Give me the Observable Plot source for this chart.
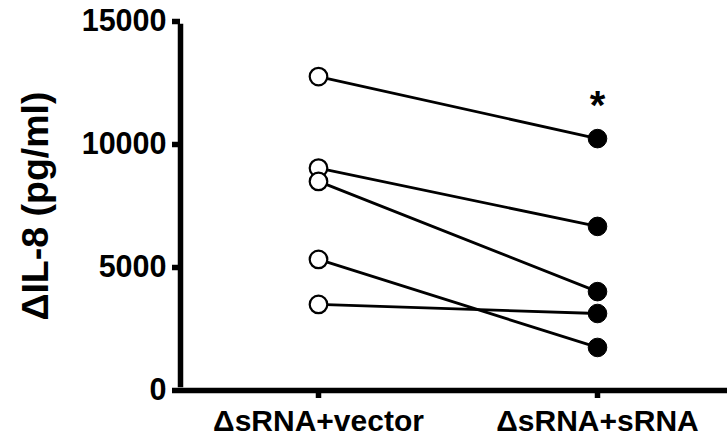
<!DOCTYPE html>
<html>
<head>
<meta charset="utf-8">
<script src="https://cdn.jsdelivr.net/npm/d3@7"></script>
<script src="https://cdn.jsdelivr.net/npm/@observablehq/plot@0.6"></script>
<style>
  html, body { margin: 0; padding: 0; background: white; }
</style>
</head>
<body>
<div id="chart"></div>
<script>
const groups = ["ΔsRNA+vector", "ΔsRNA+sRNA"];
const vectorValues = [12760, 9040, 8500, 5330, 3500];
const srnaValues = [10240, 6670, 4020, 1750, 3130];
const yTicks = [0, 5000, 10000, 15000];
const yLabel = "ΔIL-8 (pg/ml)";
const significance = "*";

const data = [];
vectorValues.forEach((v, i) => {
  data.push({subject: i, group: groups[0], value: v});
  data.push({subject: i, group: groups[1], value: srnaValues[i]});
});

const font = "'Liberation Sans', Arial, sans-serif";

const chart = Plot.plot({
  width: 727,
  height: 436,
  marginLeft: 180,
  marginRight: 0,
  marginTop: 21,
  marginBottom: 46,
  style: {fontFamily: font, color: "black", background: "white", overflow: "visible"},
  x: {type: "point", domain: groups, range: [318, 597], padding: 0},
  y: {domain: [0, 15000]},
  marks: [
    Plot.axisY({ticks: yTicks, tickFormat: d => String(d), tickSize: 8, tickPadding: 6, stroke: "black", strokeWidth: 5.5, fontSize: 30.5, fontWeight: "bold", label: null}),
    Plot.axisX({tickSize: 8, tickPadding: 11, stroke: "black", strokeWidth: 5.5, fontSize: 30, fontWeight: "bold", label: null}),
    Plot.ruleY([0], {stroke: "black", strokeWidth: 5.5}),
    Plot.ruleX([groups[0]], {x: () => groups[0], dx: 180 - 318, stroke: "black", strokeWidth: 5.5, y1: 0, y2: 15000, insetTop: -2.75, insetBottom: -2.75}),
    Plot.line(data, {x: "group", y: "value", z: "subject", stroke: "black", strokeWidth: 2.8}),
    Plot.dot(data.filter(d => d.group === groups[0]), {x: "group", y: "value", r: 8.8, fill: "white", stroke: "black", strokeWidth: 2.2}),
    Plot.dot(data.filter(d => d.group === groups[1]), {x: "group", y: "value", r: 9.3, fill: "black", stroke: "black", strokeWidth: 1}),
    Plot.text([{group: groups[1], value: srnaValues[0]}], {x: "group", y: "value", text: () => significance, dy: -32, fontSize: 40, fontWeight: "bold", fill: "black"}),
    Plot.text([yLabel], {frameAnchor: "left", textAnchor: "middle", rotate: -90, dx: -145, fontSize: 37.5, fontWeight: "bold", fill: "black"})
  ]
});
document.getElementById("chart").appendChild(chart);
</script>
</body>
</html>
